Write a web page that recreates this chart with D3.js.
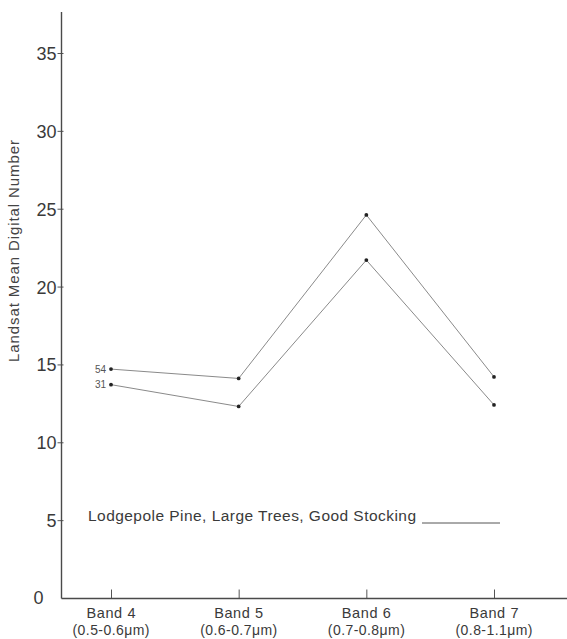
<!DOCTYPE html>
<html>
<head>
<meta charset="utf-8">
<script src="https://cdn.jsdelivr.net/npm/d3@7/dist/d3.min.js"></script>
<style>
  html, body { margin: 0; padding: 0; background: #ffffff; }
  svg { display: block; font-family: "Liberation Sans", Arial, Helvetica, sans-serif; }
</style>
</head>
<body>
<svg id="chart" width="567" height="639"></svg>
<script>
// ---- data ----
const bands = ["Band 4", "Band 5", "Band 6", "Band 7"];
const bandRanges = ["(0.5-0.6\u03bcm)", "(0.6-0.7\u03bcm)", "(0.7-0.8\u03bcm)", "(0.8-1.1\u03bcm)"];
const series54 = [14.7, 14.1, 24.6, 14.2];
const series31 = [13.7, 12.3, 21.7, 12.4];
const seriesNames = ["54", "31"];
const yTicks = [0, 5, 10, 15, 20, 25, 30, 35];
const legendText = "Lodgepole Pine, Large Trees, Good Stocking";
const yLabel = "Landsat Mean Digital Number";

// ---- layout ----
const svg = d3.select("#chart");
const axisX = 61.5, axisY = 598.5;

const x = d3.scalePoint().domain(bands).range([111, 494]);
const y = d3.scaleLinear().domain([0, 35]).range([598, 53]);

// y axis
const yAxis = d3.axisLeft(y).tickValues(yTicks).tickSize(4).tickPadding(2).tickFormat(d3.format("d"));
const gy = svg.append("g").attr("transform", `translate(${axisX},0)`).call(yAxis);
gy.select(".domain").remove();
gy.selectAll(".tick line").attr("stroke", "#555").attr("x2", -4).attr("x1", 2);
gy.selectAll(".tick text")
  .attr("fill", "#3a3a3a")
  .attr("font-size", 18)
  .attr("x", -5)
  .attr("dy", "0.36em");
gy.selectAll(".tick").filter(d => d === 0).select("text").attr("x", -18).attr("dy", "0.32em");
gy.selectAll(".tick").filter(d => d === 0).select("line").remove();
svg.append("line")
  .attr("x1", axisX).attr("x2", axisX)
  .attr("y1", 12).attr("y2", axisY)
  .attr("stroke", "#4a4a4a").attr("stroke-width", 1.4);

// x axis
const xAxis = d3.axisBottom(x).tickSize(0).tickFormat("");
const gx = svg.append("g").attr("transform", `translate(0,${axisY})`).call(xAxis);
gx.select(".domain").remove();
gx.selectAll(".tick line").attr("y1", 0).attr("y2", -9).attr("stroke", "#555").attr("stroke-width", 1);
svg.append("line")
  .attr("x1", axisX).attr("x2", 567)
  .attr("y1", axisY).attr("y2", axisY)
  .attr("stroke", "#4a4a4a").attr("stroke-width", 1.4);

// x labels (two lines)
const xl = svg.append("g");
bands.forEach((b, i) => {
  xl.append("text")
    .attr("x", x(b)).attr("y", 618)
    .attr("text-anchor", "middle")
    .attr("font-size", 14.5)
    .attr("textLength", 49)
    .attr("lengthAdjust", "spacing")
    .attr("fill", "#3a3a3a")
    .text(b);
  xl.append("text")
    .attr("x", x(b)).attr("y", 635)
    .attr("text-anchor", "middle")
    .attr("font-size", 14)
    .attr("textLength", 77)
    .attr("lengthAdjust", "spacing")
    .attr("fill", "#3a3a3a")
    .text(bandRanges[i]);
});

// y label
svg.append("text")
  .attr("transform", "translate(19,251) rotate(-90)")
  .attr("text-anchor", "middle")
  .attr("font-size", 15)
  .attr("textLength", 222)
  .attr("lengthAdjust", "spacing")
  .attr("fill", "#444")
  .text(yLabel);

// series lines
const line = d3.line().x((d, i) => x(bands[i])).y(d => y(d));
[series54, series31].forEach((s, k) => {
  svg.append("path")
    .datum(s)
    .attr("d", line)
    .attr("fill", "none")
    .attr("stroke", "#8a8a8a")
    .attr("stroke-width", 1);
  svg.append("g").selectAll("circle")
    .data(s)
    .join("circle")
    .attr("cx", (d, i) => x(bands[i]))
    .attr("cy", d => y(d))
    .attr("r", 1.9)
    .attr("fill", "#222");
  svg.append("text")
    .attr("x", x(bands[0]) - 5)
    .attr("y", y(s[0]))
    .attr("dy", "0.35em")
    .attr("text-anchor", "end")
    .attr("font-size", 10)
    .attr("fill", "#555")
    .text(seriesNames[k]);
});

// legend
svg.append("text")
  .attr("x", 88).attr("y", 521)
  .attr("font-size", 15.5)
  .attr("textLength", 328)
  .attr("lengthAdjust", "spacing")
  .attr("fill", "#3a3a3a")
  .text(legendText);
svg.append("line")
  .attr("x1", 422).attr("x2", 500)
  .attr("y1", 523).attr("y2", 523)
  .attr("stroke", "#555").attr("stroke-width", 1);
</script>
</body>
</html>
